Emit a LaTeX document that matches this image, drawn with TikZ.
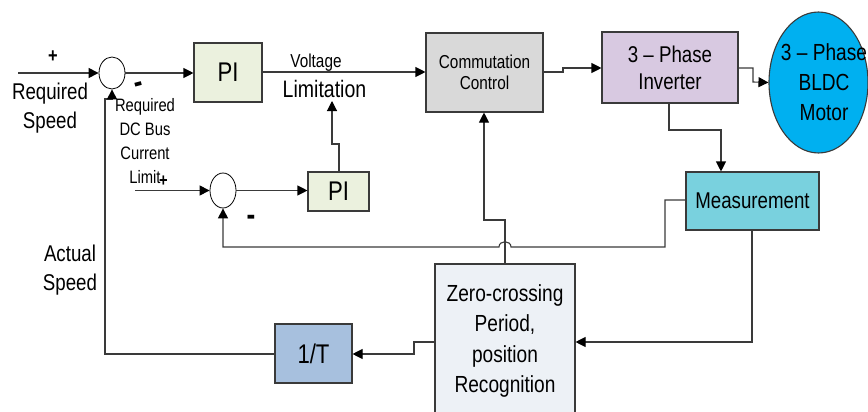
\documentclass[tikz,border=0pt]{standalone}
\usepackage{fontspec}
\setmainfont{Liberation Sans}[FakeStretch=0.82]
\usetikzlibrary{arrows.meta,shapes.geometric}
\definecolor{lnc}{HTML}{3A3A3A}
\definecolor{pigreen}{HTML}{EBF1DE}
\definecolor{ccgray}{HTML}{D9D9D9}
\definecolor{invlil}{HTML}{D8C9E1}
\definecolor{meascyan}{HTML}{79D1DE}
\definecolor{motorblue}{HTML}{00B0F0}
\definecolor{onetblue}{HTML}{A7C0DE}
\definecolor{zcgray}{HTML}{EDF1F6}
\newcommand\fs[2]{\fontsize{#1}{#2}\selectfont}
\begin{document}
\begin{tikzpicture}[x=1pt,y=-1pt,
  line/.style={draw=lnc, line width=1.1pt},
  arr/.style={line, -{Triangle[length=10pt,width=10pt,color=black]}},
  blk/.style={draw=lnc, line width=1.1pt, inner sep=0pt, align=center},
  sumc/.style={ellipse, draw=black, line width=0.8pt, fill=white, inner sep=0pt},
  lbl/.style={inner sep=0pt, align=center},
  sgn/.style={inner sep=0pt, font=\fs{20}{22}\bfseries}
]
\useasboundingbox (0,0) rectangle (868,412);

% blocks
\node[blk, fill=pigreen, minimum width=68pt, minimum height=59pt, font=\fs{27}{30}] (pi1) at (228,72.5) {PI};
\node[blk, fill=pigreen, minimum width=61pt, minimum height=39pt, font=\fs{27}{30}] (pi2) at (338.5,191.5) {PI};
\node[blk, fill=ccgray, minimum width=117pt, minimum height=79pt, font=\fs{18.7}{21.5}] (cc) at (484.5,72.5) {Commutation\\Control};
\node[blk, fill=invlil, minimum width=136pt, minimum height=71pt, font=\fs{22.8}{27}] (inv) at (670,67.5) {3 – Phase\\Inverter};
\node[ellipse, draw=lnc, line width=1.1pt, fill=motorblue, minimum width=99pt, minimum height=141pt, inner sep=0pt] (motor) at (818.5,82.5) {};
\node[lbl, font=\fs{23.3}{30}] (motortxt) at (824,82) {3 – Phase\\BLDC\\Motor};
\node[blk, fill=meascyan, minimum width=133pt, minimum height=58pt, font=\fs{22.8}{26}] (meas) at (752.5,201) {Measurement};
\node[blk, fill=zcgray, minimum width=140pt, minimum height=154pt, font=\fs{23.3}{30.5}] (zc) at (505,341) {Zero-crossing\\Period,\\position\\Recognition};
\node[blk, fill=onetblue, minimum width=77pt, minimum height=59pt, font=\fs{27}{30}] (onet) at (313.5,353.5) {1/T};

% summing junctions
\node[sumc, minimum width=26pt, minimum height=32pt] (sum1) at (112,73) {};
\node[sumc, minimum width=26pt, minimum height=35pt] (sum2) at (223,190.5) {};

% labels
\node[lbl, font=\fs{22.8}{29}] (rs) at (50,108) {Required\\Speed};
\node[lbl, font=\fs{22.8}{29}] (as) at (70,270) {Actual\\Speed};
\node[lbl, font=\fs{18}{24}] (dcl) at (145,141) {Required\\DC Bus\\Current\\Limit};
\node[lbl, font=\fs{18.7}{20}, anchor=base] (volt) at (316,68) {Voltage};
\node[lbl, font=\fs{23.8}{26}, anchor=base] (lim) at (324.5,97) {Limitation};
\node[sgn] (p1) at (53,57) {+};
\node[sgn, font=\fs{18}{20}\bfseries] (p2) at (163.5,181) {+};
\node[sgn, font=\fs{32}{34}\bfseries, rotate=15] (m1) at (139,87) {-};
\node[sgn, font=\fs{32}{34}\bfseries] (m2) at (251,220) {-};

% connectors
\coordinate (in1) at (18,73);
\coordinate (in2) at (135,190.5);
\draw[arr] (in1) -- (sum1.west);
\draw[arr] (sum1.east) -- (pi1.west |- sum1.east);
\draw[arr] (pi1.east |- 0,72) -- (cc.west |- 0,72);
\draw[arr] (cc.east |- 0,72) -- (563,72) -- (563,68) -- (inv.west |- 0,68);
\draw[arr] (inv.east |- 0,68) -- (753,68) -- (753,82) -- (motor.west);
\draw[arr] (669,103) -- (669,130) -- (721,130) -- (meas.north -| 721,0);
\draw[arr] (meas.west |- 0,200) -- (665,200) -- (665,247) -- (511,247)
   .. controls (511,240) and (499,240) .. (499,247) -- (223,247) -- (sum2.south);
\draw[arr] (meas.south -| 752,0) -- (752,342) -- (zc.east |- 0,342);
\draw[arr] (zc.north -| 505,0) -- (505,220) -- (484,220) -- (cc.south -| 484,0);
\draw[arr] (zc.west |- 0,342) -- (414,342) -- (414,354) -- (onet.east |- 0,354);
\draw[arr] (onet.west |- 0,354) -- (105,354) -- (105,99) -- (112,99) -- (sum1.south);
\draw[arr] (in2) -- (sum2.west);
\draw[arr] (sum2.east) -- (pi2.west |- sum2.east);
\draw[arr] (pi2.north -| 339,0) -- (339,144) -- (332,144) -- (332,101);
\end{tikzpicture}
\end{document}
